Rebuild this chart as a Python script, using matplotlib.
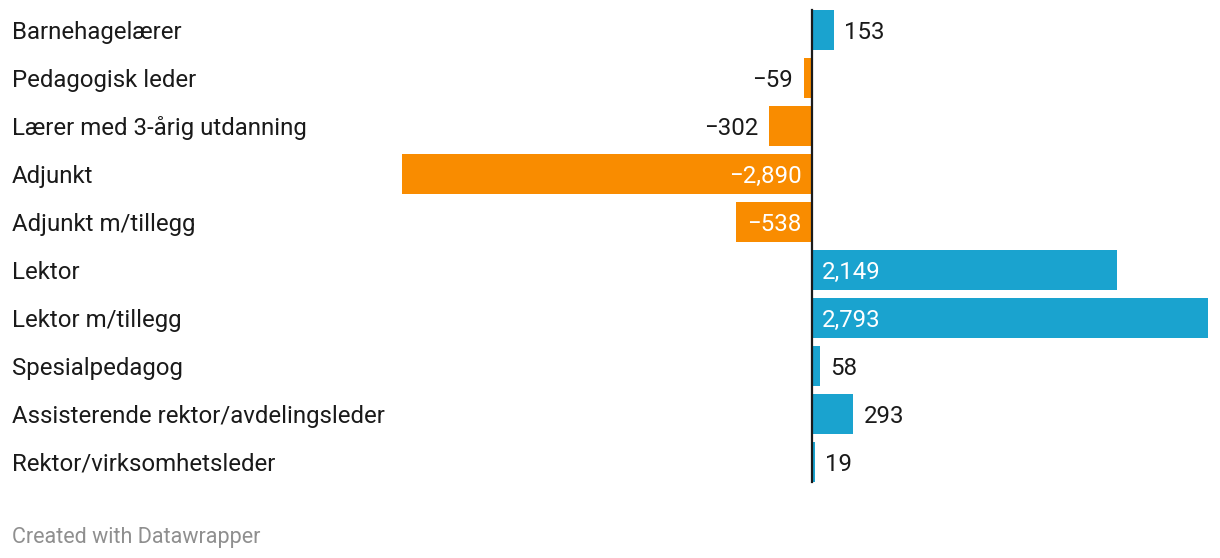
import matplotlib
matplotlib.use("Agg")
import matplotlib.pyplot as plt

plt.rcParams['font.family'] = ['Roboto', 'DejaVu Sans']

# Stillinger og endring
stillinger = [
    'Barnehagelærer',
    'Pedagogisk leder',
    'Lærer med 3-årig utdanning',
    'Adjunkt',
    'Adjunkt m/tillegg',
    'Lektor',
    'Lektor m/tillegg',
    'Spesialpedagog',
    'Assisterende rektor/avdelingsleder',
    'Rektor/virksomhetsleder',
]
endring = [153, -59, -302, -2890, -538, 2149, 2793, 58, 293, 19]

blaa = '#1aa3cf'
oransje = '#f98c00'
fs = 17.25

W, H = 1220, 558
fig = plt.figure(figsize=(W / 100, H / 100), dpi=100)

# akse i pikselkoordinater: venstre 402, hoyre 1208, topp 6, bunn 486
x0, x1, y0, y1 = 402, 1208, 6, 486
ax = fig.add_axes([x0 / W, 1 - y1 / H, (x1 - x0) / W, (y1 - y0) / H])
ax.set_xlim(min(endring), max(endring))
ax.set_ylim(len(stillinger) - 0.5, -0.5)
ax.axis('off')

farger = [blaa if v >= 0 else oransje for v in endring]
ax.barh(range(len(stillinger)), endring, height=40 / 48, color=farger)
ax.axvline(0, ymin=4 / 480, ymax=1 - 4 / 480, color='#1a1a1a', lw=1.6)

for i, (navn, v) in enumerate(zip(stillinger, endring)):
    fig.text(12 / W, 1 - (30 + 48 * i) / H, navn, fontsize=fs,
             color='#1a1a1a', va='center_baseline', ha='left')
    tekst = f'{abs(v):,}'
    if v < 0:
        tekst = '\u2212' + tekst
    inni = abs(v) > 500
    farge = 'white' if inni else '#1a1a1a'
    x = 0 if inni else v
    dx = 7.5 if v >= 0 else -7.5
    ax.annotate(tekst, (x, i), xytext=(dx, 0), textcoords='offset points',
                ha='left' if v >= 0 else 'right', va='center_baseline',
                color=farge, fontsize=fs)

fig.text(12 / W, 1 - 535 / H, 'Created with Datawrapper', fontsize=15.5,
         color='#8f8f8f', va='center_baseline', ha='left')

fig.savefig('out.png', dpi=100, facecolor='white')
